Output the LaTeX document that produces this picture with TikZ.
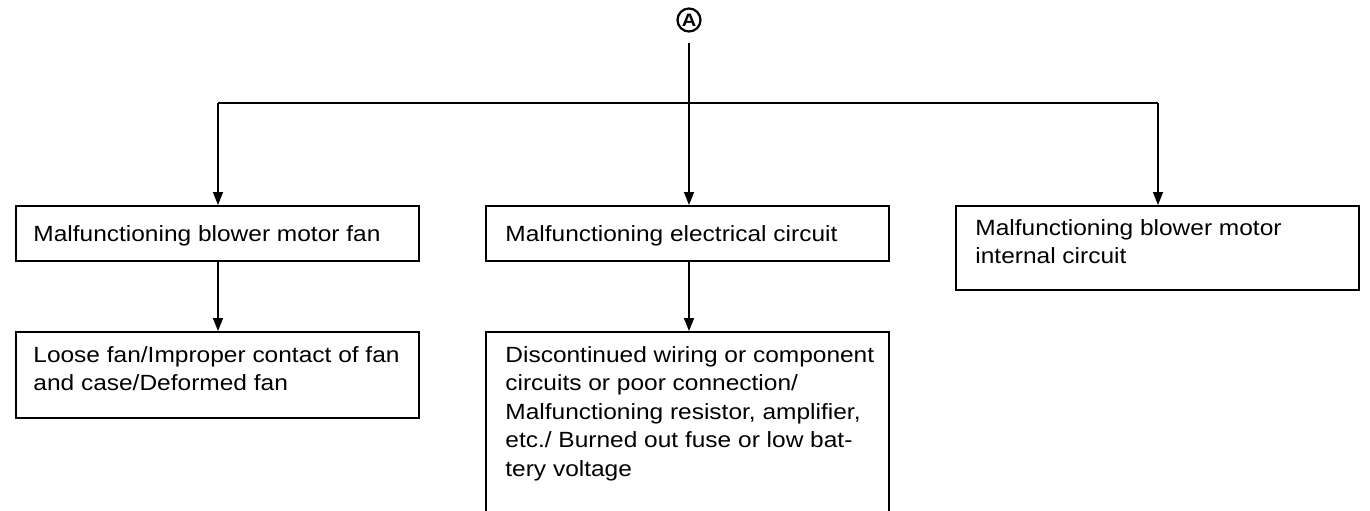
\documentclass[tikz,border=0pt]{standalone}
\usepackage{fontspec}
\setmainfont[FakeStretch=1.113]{Liberation Sans}
\usetikzlibrary{arrows.meta}
\newcommand\boxlines[1]{\begin{tabular}[t]{@{}l@{}}#1\end{tabular}}
\begin{document}
\begin{tikzpicture}[x=0.5pt,y=-0.5pt,
  box/.style={draw,line width=0.8pt,anchor=north west,inner sep=0pt,minimum width=201.5pt},
  txt/.style={anchor=base west,inner sep=0pt,font=\fontsize{11}{14.3}\selectfont},
  conn/.style={line width=0.8pt},
  arr/.style={conn,-{Triangle[length=6.5pt,width=5pt]}}]
\useasboundingbox (0,0) rectangle (1370,510);

% boxes
\node[box,minimum height=27.5pt] (b1) at (15,205) {};
\node[box,minimum height=27.5pt] (b2) at (485,205) {};
\node[box,minimum height=42pt]   (b3) at (955,205) {};
\node[box,minimum height=43pt]   (b4) at (15,331) {};
\node[box,minimum height=95pt]   (b5) at (485,331) {};

% texts
\node[txt] (t1) at (33,241) {\boxlines{Malfunctioning blower motor fan}};
\node[txt] (t2) at (505,241) {\boxlines{Malfunctioning electrical circuit}};
\node[txt] (t3) at (975,235) {\boxlines{Malfunctioning blower motor\\internal circuit}};
\node[txt] (t4) at (33,362) {\boxlines{Loose fan/Improper contact of fan\\and case/Deformed fan}};
\node[txt] (t5) at (505,362) {\boxlines{Discontinued wiring or component\\circuits or poor connection/\\Malfunctioning resistor, amplifier,\\etc./ Burned out fuse or low bat-\\tery voltage}};

% circled A
\node[draw,circle,line width=1.1pt,minimum size=11.5pt,inner sep=0pt,
      font=\fontsize{9}{9}\bfseries] (A) at (689,20) {A};

% junction coordinates
\coordinate (jl) at (218,103);
\coordinate (jr) at (1158,103);

% connectors
\draw[conn] (jl) -- (jr);
\draw[arr,shorten <=5pt] (A) -- (A |- b2.north);
\draw[arr] (jl) -- (jl |- b1.north);
\draw[arr] (jr) -- (jr |- b3.north);
\draw[arr] (b1.south -| jl) -- (jl |- b4.north);
\draw[arr] (b2.south -| A) -- (A |- b5.north);
\end{tikzpicture}
\end{document}
